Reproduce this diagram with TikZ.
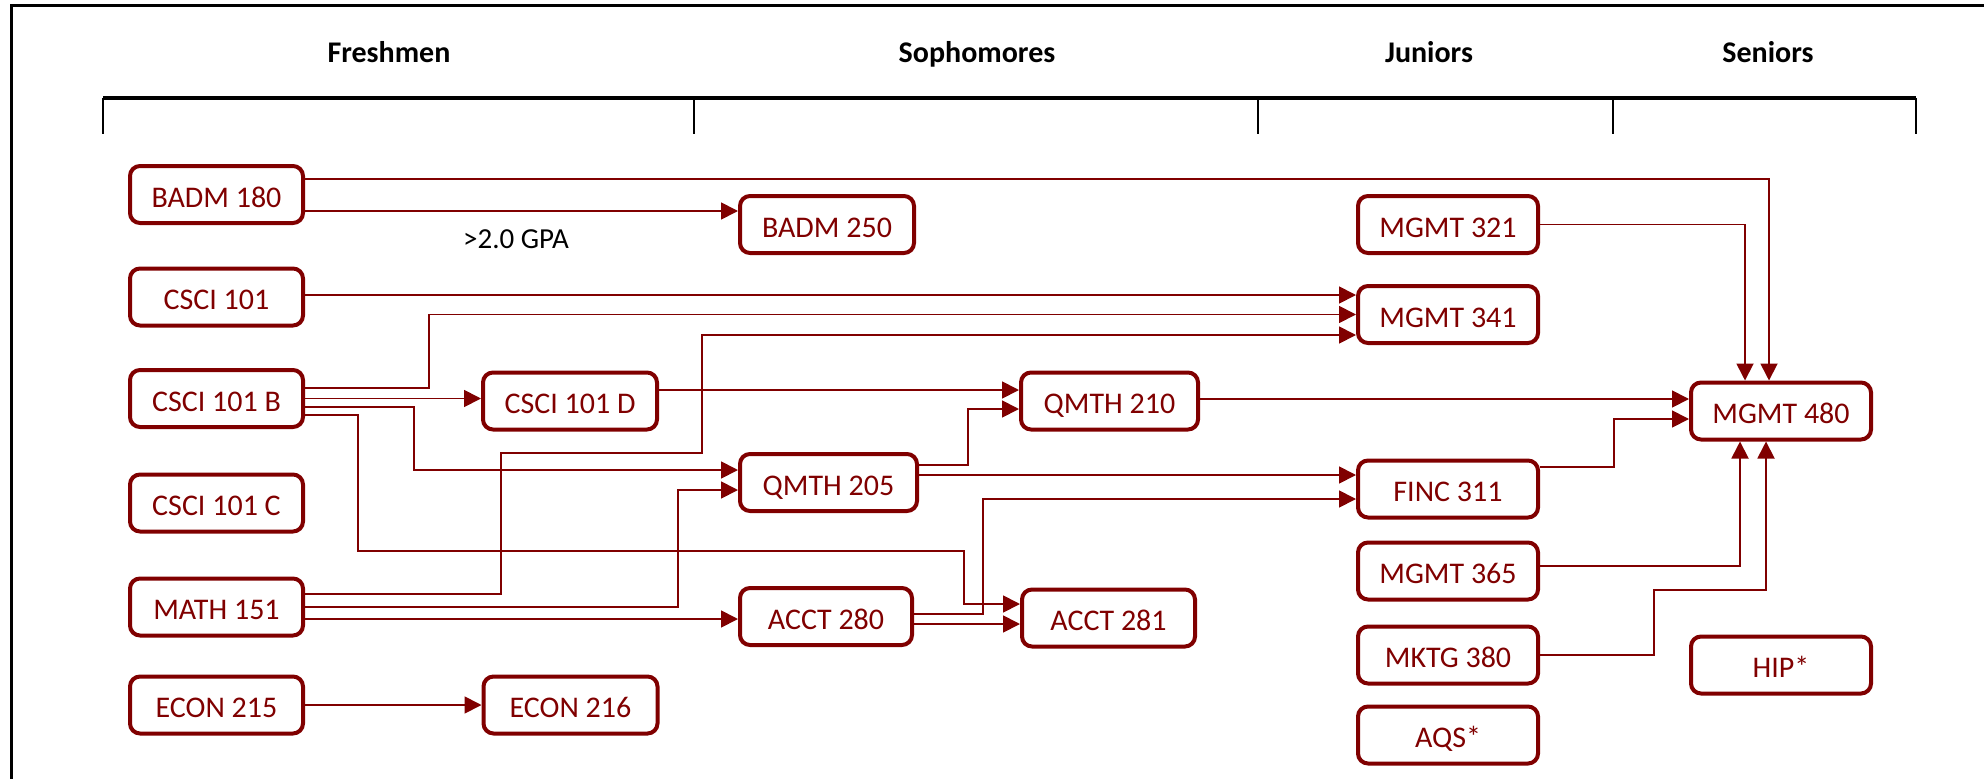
\documentclass[tikz,border=0pt]{standalone}
\usepackage{fontspec}
\setmainfont{Carlito}
\usetikzlibrary{arrows.meta}
\definecolor{crs}{RGB}{128,0,0}
\begin{document}
\begin{tikzpicture}[x=1pt,y=-1pt,
  course/.style={draw=crs, line width=4pt, rounded corners=10pt, text=crs,
    font=\fontsize{30}{35}\selectfont, minimum width=174pt, minimum height=57pt,
    inner sep=0pt, text height=25pt, text depth=0pt, fill=white},
  conn/.style={draw=crs, line width=1.8pt, -{Triangle[length=17pt,width=17pt]}},
  hdr/.style={font=\fontsize{30}{35}\selectfont\bfseries, anchor=base, inner sep=0pt},
  gpalbl/.style={font=\fontsize{29}{34}\selectfont, anchor=base, inner sep=0pt},
  ]
\useasboundingbox (0,0) rectangle (1984,779);
% frame
\draw[line width=3pt] (1984,5) -- (11,5) -- (11,779);
% headers
\node[hdr] (hfr) at (389,62) {Freshmen};
\node[hdr] (hso) at (977,62) {Sophomores};
\node[hdr] (hju) at (1429,62) {Juniors};
\node[hdr] (hse) at (1768,62) {Seniors};
% bracket
\draw[line width=3.5pt] (103,98) -- (1916,98);
\foreach \xx in {103,694,1258,1613,1916}
  \draw[line width=2.5pt] (\xx,98) -- (\xx,134);
% column 1
\node[course, minimum width=173pt] (b180) at (216.5,194.5) {BADM 180};
\node[course, minimum width=173pt] (c101) at (216.5,297) {CSCI 101};
\node[course, minimum width=173pt] (cb) at (216.5,398.5) {CSCI 101 B};
\node[course, minimum width=173pt] (cc) at (216.5,503) {CSCI 101 C};
\node[course, minimum width=173pt] (m151) at (216.5,607) {MATH 151};
\node[course, minimum width=173pt] (e215) at (216.5,705) {ECON 215};
% column 2
\node[course] (cd) at (570,401) {CSCI 101 D};
\node[course] (e216) at (570.5,705) {ECON 216};
% column 3
\node[course] (b250) at (827,224.5) {BADM 250};
\node[course, minimum width=177pt] (q205) at (828.5,482.5) {QMTH 205};
\node[course, minimum width=172pt] (a280) at (826,616.5) {ACCT 280};
% column 4
\node[course, minimum width=177pt] (q210) at (1109.5,401) {QMTH 210};
\node[course, minimum width=173pt] (a281) at (1108.5,618) {ACCT 281};
% column 5
\node[course, minimum width=180pt] (m321) at (1448,224.5) {MGMT 321};
\node[course, minimum width=180pt] (m341) at (1448,314.5) {MGMT 341};
\node[course, minimum width=180pt] (f311) at (1448,489) {FINC 311};
\node[course, minimum width=180pt] (m365) at (1448,571) {MGMT 365};
\node[course, minimum width=180pt] (k380) at (1448,655) {MKTG 380};
\node[course, minimum width=180pt] (aqs) at (1448,735) {AQS*};
% column 6
\node[course, minimum width=180pt] (m480) at (1781,411) {MGMT 480};
\node[course, minimum width=180pt] (hip) at (1781,665) {HIP*};
% label
\node[gpalbl] (gpa) at (516,248) {>2.0 GPA};
% helper coordinates
\coordinate (s10) at ([yshift=-12pt]m151.east);
\coordinate (s11) at ([yshift=11pt]cd.east);
\coordinate (s13) at ([yshift=7.5pt]q205.east);
\coordinate (s15) at ([yshift=-7.5pt]a280.east);
\coordinate (s16) at ([yshift=2pt]q210.east);
% connectors
\draw[conn] ([yshift=15.5pt]b180.east) -| ([xshift=-12pt]m480.north);
\draw[conn] ([yshift=-16.5pt]b180.east) -- ([yshift=13.5pt]b250.west);
\draw[conn] ([yshift=2pt]c101.east) -- ([yshift=19.5pt]m341.west);
\draw[conn] ([yshift=10.5pt]cb.east) -- ++(124,0) |- (m341.west);
\draw[conn] (cb.east) -- (cb.east -| cd.west);
\draw[conn] ([yshift=-8.5pt]cb.east) -- ++(109,0) |- ([yshift=12.5pt]q205.west);
\draw[conn] ([yshift=-16.5pt]cb.east) -- ++(53,0) -- ++(0,136) -- ++(606,0) |- ([yshift=14pt]a281.west);
\draw[conn] ([yshift=13pt]m151.east) -- ++(196,0) -- ++(0,-141) -- ++(201,0) |- ([yshift=-20.5pt]m341.west);
\draw[conn] (m151.east) -- ++(373,0) |- ([yshift=-7.5pt]q205.west);
\draw[conn] (s10) -- (s10 -| a280.west);
\draw[conn] (s11) -- (s11 -| q210.west);
\draw[conn] ([yshift=17.5pt]q205.east) -- ++(49,0) |- ([yshift=-8pt]q210.west);
\draw[conn] (s13) -- (s13 -| f311.west);
\draw[conn] ([yshift=2.5pt]a280.east) -- ++(69,0) |- ([yshift=-10pt]f311.west);
\draw[conn] (s15) -- (s15 -| a281.west);
\draw[conn] (s16) -- (s16 -| m480.west);
\draw[conn] ([yshift=22pt]f311.east) -- ++(74,0) |- ([yshift=-8pt]m480.west);
\draw[conn] (m321.east) -| ([xshift=-36pt]m480.north);
\draw[conn] ([yshift=5pt]m365.east) -| ([xshift=-41pt]m480.south);
\draw[conn] (k380.east) -- ++(114,0) -- ++(0,-65) -| ([xshift=-15pt]m480.south);
\draw[conn] (e215.east) -- (e216.west);
\end{tikzpicture}
\end{document}
